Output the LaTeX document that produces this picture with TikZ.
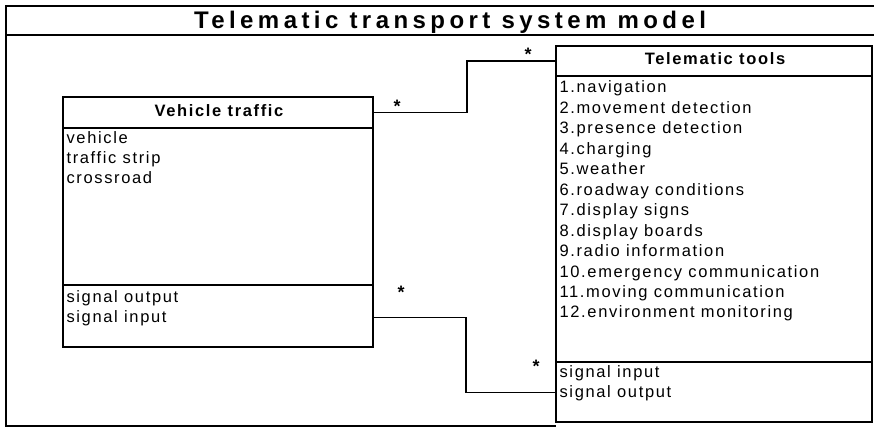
\documentclass[tikz,border=0pt]{standalone}
\usepackage{fontspec}
\setmainfont{Liberation Sans}
\newfontfamily\titlefont[LetterSpace=18.5]{Liberation Sans}
\newfontfamily\itemfont[LetterSpace=10]{Liberation Sans}
\begin{document}
\begin{tikzpicture}[x=1pt,y=-1pt,line width=1.1pt,
  compart/.style={draw, rectangle, anchor=north west, inner sep=0pt, outer sep=0pt},
  txt/.style={anchor=base west, inner sep=0pt, font=\itemfont\fontsize{16.5}{19}\selectfont},
  headtxt/.style={anchor=base, inner sep=0pt, font=\itemfont\bfseries\fontsize{16.5}{19}\selectfont},
  startxt/.style={anchor=base, inner sep=0pt, font=\bfseries\fontsize{18}{20}\selectfont},
  conn/.style={draw, line width=1.1pt}]
\fill[white] (0,0) rectangle (874,430);
\useasboundingbox (0,0) rectangle (874,430);
% frame
\draw (874,6) -- (6,6) -- (6,426) -- (556,426);
\draw (6,35) -- (874,35);
\node[anchor=base, inner sep=0pt, font=\titlefont\bfseries\fontsize{24}{28}\selectfont] (title) at (450,28.5) {Telematic transport system model};
% Vehicle traffic class
\node[compart, minimum width=310pt, minimum height=31pt] (vth) at (63,97) {};
\node[compart, minimum width=310pt, minimum height=157pt] (vta) at (63,128) {};
\node[compart, minimum width=310pt, minimum height=62pt] (vto) at (63,285) {};
\node[headtxt] (vtht) at (219,117) {Vehicle traffic};
\foreach \t [count=\i] in {vehicle,traffic strip,crossroad}
  \node[txt] (va\i) at (66,124+20*\i) {\t};
\node[txt] (vo1) at (66,302) {signal output};
\node[txt] (vo2) at (66,322) {signal input};
% Telematic tools class
\node[compart, minimum width=316pt, minimum height=30pt] (tth) at (556,46) {};
\node[compart, minimum width=316pt, minimum height=286pt] (tta) at (556,76) {};
\node[compart, minimum width=316pt, minimum height=60pt] (tto) at (556,362) {};
\node[headtxt] (ttht) at (715,65) {Telematic tools};
\foreach \t [count=\i] in {1.navigation,2.movement detection,3.presence detection,4.charging,5.weather,6.roadway conditions,7.display signs,8.display boards,9.radio information,10.emergency communication,11.moving communication,12.environment monitoring}
  \node[txt] (ta\i) at (559,72.55+20.45*\i) {\t};
\node[txt] (to1) at (559,377) {signal input};
\node[txt] (to2) at (559,397) {signal output};
% connectors
\draw[conn] (vth.east) -- ++(94,0) |- (tth.west);
\draw[conn] (vto.east |- vo2) -- ++(93,0) |- (tto.west |- to2);
% multiplicities
\node[startxt] (s1) at (397,113) {*};
\node[startxt] (s2) at (528,61) {*};
\node[startxt] (s3) at (401,298) {*};
\node[startxt] (s4) at (536,372) {*};
\end{tikzpicture}
\end{document}
